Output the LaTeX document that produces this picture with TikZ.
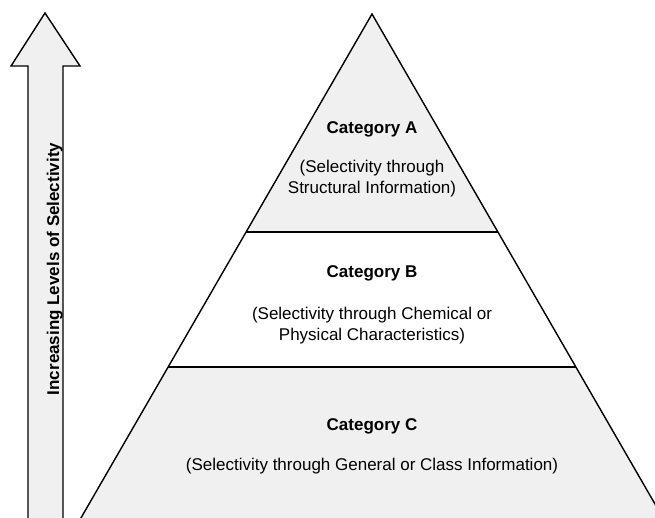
\documentclass[tikz,border=0pt]{standalone}
\usepackage{fontspec}
\setmainfont{Liberation Sans}
\definecolor{bandgray}{HTML}{F0F0F0}
\tikzset{
  outline/.style={draw=black, line width=1.4pt, line join=miter},
  cattitle/.style={font=\fontsize{17}{21}\selectfont\bfseries, anchor=base, inner sep=0pt},
  catdesc/.style={font=\fontsize{17}{21}\selectfont, anchor=base, align=center, inner sep=0pt},
  arrowlabel/.style={font=\fontsize{17}{21}\selectfont\bfseries, rotate=90, anchor=base, inner sep=0pt}
}
\begin{document}
\begin{tikzpicture}[x=1pt,y=-1pt]
\useasboundingbox (0,0) rectangle (655,518);
\clip (0,0) rectangle (655,518);
% coordinates of pyramid
\coordinate (apex) at (372,14);
\coordinate (abL) at (246,232);
\coordinate (abR) at (498,232);
\coordinate (bcL) at (168,367);
\coordinate (bcR) at (576,367);
\coordinate (botL) at (74,530);
\coordinate (botR) at (670,530);
% bands
\fill[bandgray] (apex) -- (abR) -- (abL) -- cycle;
\fill[white] (abL) -- (abR) -- (bcR) -- (bcL) -- cycle;
\fill[bandgray] (bcL) -- (bcR) -- (botR) -- (botL) -- cycle;
\draw[outline] (botL) -- (apex) -- (botR);
\draw[outline] (abL) -- (abR);
\draw[outline] (bcL) -- (bcR);
% arrow
\draw[outline, fill=bandgray] (45,13) -- (80,66) -- (63,66) -- (63,530) -- (28,530) -- (28,66) -- (11,66) -- cycle;
\node[arrowlabel] (lbl) at (59,269) {Increasing Levels of Selectivity};
% texts
\node[cattitle] (ta) at (372,134) {Category A};
\node[catdesc] (da) at (372,194) {(Selectivity through\\Structural Information)};
\node[cattitle] (tb) at (372,278) {Category B};
\node[catdesc] (db) at (372,340) {(Selectivity through Chemical or\\Physical Characteristics)};
\node[cattitle] (tc) at (372,430) {Category C};
\node[catdesc] (dc) at (372,470) {(Selectivity through General or Class Information)};
\end{tikzpicture}
\end{document}
